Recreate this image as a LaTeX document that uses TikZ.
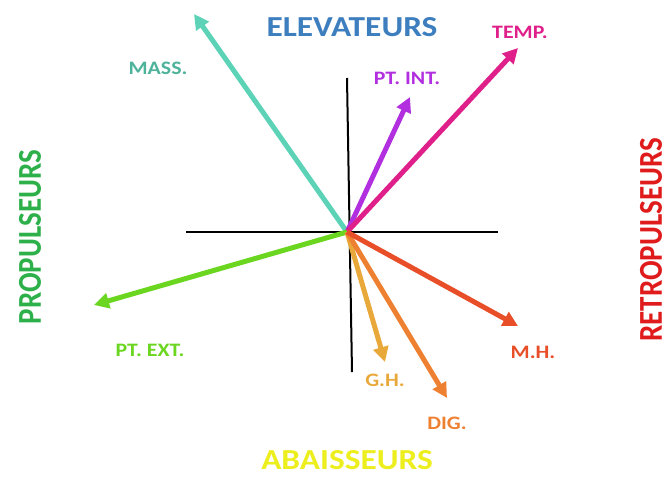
\documentclass[tikz,border=0pt]{standalone}
\usepackage{fontspec}
\setmainfont{Carlito}
\usetikzlibrary{arrows.meta}
\definecolor{elev}{HTML}{3D7EBF}
\definecolor{abais}{HTML}{EDEE1E}
\definecolor{prop}{HTML}{2DB04A}
\definecolor{retro}{HTML}{E01B1B}
\definecolor{mass}{HTML}{5CD3B6}
\definecolor{ptint}{HTML}{B22FE0}
\definecolor{temp}{HTML}{E0208A}
\definecolor{ptext}{HTML}{6BD620}
\definecolor{gh}{HTML}{E9A93A}
\definecolor{dig}{HTML}{EE8032}
\definecolor{mh}{HTML}{E84E28}

\begin{document}
\begin{tikzpicture}[
  x=1pt, y=-1pt,
  title/.style={font=\fontsize{29}{31}\selectfont\bfseries, inner sep=0pt, xscale=1.15},
  tag/.style={font=\fontsize{19}{21}\selectfont\bfseries, inner sep=0pt, xscale=1.15},
  axis/.style={draw=black, line width=2pt},
  vec/.style={-{Triangle[length=15pt,width=15pt]}, line width=5pt}
]
\useasboundingbox (0,0) rectangle (671,477);

% the four families of muscles
\node[title, text=elev] (elevateurs) at (352,27) {ELEVATEURS};
\node[title, text=abais] (abaisseurs) at (347,460) {ABAISSEURS};
\node[title, text=prop, rotate=90] (propulseurs) at (30,237) {PROPULSEURS};
\node[title, text=retro, rotate=90] (retropulseurs) at (651,240) {RETROPULSEURS};

% the axes
\coordinate (o) at (347,232);
\coordinate (xl) at (186,232);
\coordinate (xr) at (498,232);
\coordinate (yt) at (347,78);
\coordinate (yb) at (352,372);
\draw[axis] (xl) -- (xr);
\draw[axis] (yt) -- (yb);

% tips of the vectors
\coordinate (mass) at (194,14);
\coordinate (ptint) at (410,97);
\coordinate (temp) at (518,48);
\coordinate (ptext) at (94,305);
\coordinate (gh) at (385,362);
\coordinate (dig) at (447,398);
\coordinate (mh) at (518,326);

\draw[vec, mass] (o) -- (mass);
\draw[vec, ptint] (o) -- (ptint);
\draw[vec, temp] (o) -- (temp);
\draw[vec, ptext] (o) -- (ptext);
\draw[vec, gh] (o) -- (gh);
\draw[vec, dig] (o) -- (dig);
\draw[vec, mh] (o) -- (mh);

% labels of the vectors
\node[tag, text=mass!85!black] (lmass) at (158,68) {MASS.};
\node[tag, text=ptint] (lptint) at (407,78) {PT. INT.};
\node[tag, text=temp] (ltemp) at (520,32) {TEMP.};
\node[tag, text=ptext] (lptext) at (150,350) {PT. EXT.};
\node[tag, text=gh] (lgh) at (385,380) {G.H.};
\node[tag, text=dig] (ldig) at (447,423) {DIG.};
\node[tag, text=mh] (lmh) at (533,352) {M.H.};

\end{tikzpicture}
\end{document}
